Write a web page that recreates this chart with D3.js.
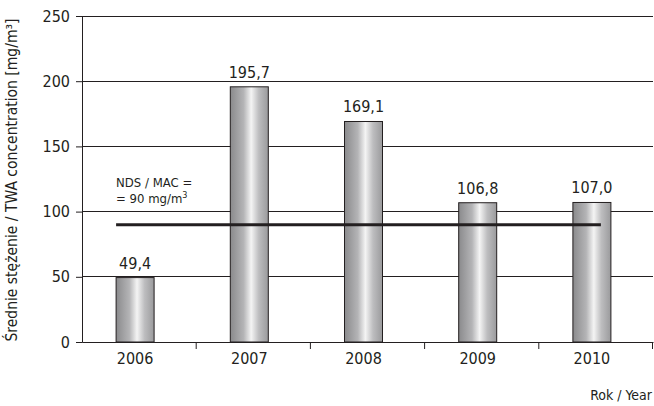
<!DOCTYPE html>
<html>
<head>
<meta charset="utf-8">
<script src="https://cdn.jsdelivr.net/npm/d3@7.9.0/dist/d3.min.js"></script>
<style>
  body { margin: 0; background: #fff; }
  svg text { font-family: "Liberation Sans Narrow", "DejaVu Sans Condensed", "Roboto Condensed", sans-serif; fill: #231f20; }
</style>
</head>
<body>
<div id="chart"></div>
<script>
const years = ["2006", "2007", "2008", "2009", "2010"];
const values = [49.4, 195.7, 169.1, 106.8, 107.0];
const valueLabels = ["49,4", "195,7", "169,1", "106,8", "107,0"];
const yTicks = [0, 50, 100, 150, 200, 250];
const limitValue = 90;

const W = 654, H = 406;
const margin = { top: 16, right: 1, bottom: 64, left: 82 };
const width = W - margin.left - margin.right;
const height = H - margin.top - margin.bottom;

const svg = d3.select("#chart").append("svg")
    .attr("width", W)
    .attr("height", H);

const defs = svg.append("defs");
const grad = defs.append("linearGradient")
    .attr("id", "barGrad")
    .attr("x1", "0%").attr("x2", "100%").attr("y1", "0%").attr("y2", "0%");
grad.append("stop").attr("offset", "0%").attr("stop-color", "#8a8a8c");
grad.append("stop").attr("offset", "35%").attr("stop-color", "#b4b4b6");
grad.append("stop").attr("offset", "55%").attr("stop-color", "#f4f4f4");
grad.append("stop").attr("offset", "75%").attr("stop-color", "#bdbdbf");
grad.append("stop").attr("offset", "100%").attr("stop-color", "#9a9a9c");

const g = svg.append("g").attr("transform", `translate(${margin.left},${margin.top})`);

const x = d3.scaleBand().domain(years).range([0, width]).paddingInner(0).paddingOuter(0);
const y = d3.scaleLinear().domain([0, 250]).range([height, 0]);

// gridlines
g.selectAll("line.grid")
    .data(yTicks.filter(d => d > 0))
    .enter().append("line")
    .attr("class", "grid")
    .attr("x1", 0).attr("x2", width)
    .attr("y1", d => y(d)).attr("y2", d => y(d))
    .attr("stroke", "#231f20").attr("stroke-width", 1)
    .attr("shape-rendering", "crispEdges");

// bars
const barW = 38;
const barX = i => x(years[i]) + x.bandwidth() / 2 - barW / 2 - 4;
g.selectAll("rect.bar")
    .data(values)
    .enter().append("rect")
    .attr("class", "bar")
    .attr("x", (d, i) => barX(i))
    .attr("y", d => y(d))
    .attr("width", barW)
    .attr("height", d => height - y(d))
    .attr("fill", "url(#barGrad)")
    .attr("stroke", "#231f20")
    .attr("stroke-width", 1);

// value labels
g.selectAll("text.val")
    .data(values)
    .enter().append("text")
    .attr("class", "val")
    .attr("x", (d, i) => barX(i) + barW / 2)
    .attr("y", d => y(d) - 9)
    .attr("text-anchor", "middle")
    .style("font-size", "16px")
    .text((d, i) => valueLabels[i]);

// limit line
g.append("line")
    .attr("x1", barX(0))
    .attr("x2", barX(4) + barW - 10)
    .attr("y1", y(limitValue)).attr("y2", y(limitValue))
    .attr("stroke", "#231f20").attr("stroke-width", 3);

const lim = g.append("text")
    .attr("y", y(limitValue) - 38)
    .style("font-size", "13px");
lim.append("tspan").attr("x", barX(0)).text("NDS / MAC =");
lim.append("tspan").attr("x", barX(0)).attr("dy", 16).text("= 90 mg/m");
lim.append("tspan").attr("dy", -5).style("font-size", "9px").text("3");

// y axis
const yAxis = g.append("g")
    .call(d3.axisLeft(y).tickValues(yTicks).tickSize(6).tickPadding(6));
yAxis.select(".domain").attr("stroke", "#231f20");
yAxis.selectAll(".tick line").attr("stroke", "#231f20");
yAxis.selectAll("text").style("font-size", "16px").attr("fill", "#231f20");

// x axis
const xAxis = g.append("g")
    .attr("transform", `translate(0,${height})`)
    .call(d3.axisBottom(x).tickSize(0).tickPadding(11));
xAxis.select(".domain").attr("stroke", "#231f20");
xAxis.selectAll("text").style("font-size", "16px").attr("fill", "#231f20")
    .attr("dx", -4);
g.selectAll("line.xtick")
    .data(years)
    .enter().append("line")
    .attr("class", "xtick")
    .attr("x1", (d, i) => x(d) + x.step() - (i === 4 ? 0.5 : 0))
    .attr("x2", (d, i) => x(d) + x.step() - (i === 4 ? 0.5 : 0))
    .attr("y1", height).attr("y2", height + 7)
    .attr("stroke", "#231f20");

// axis titles
svg.append("text")
    .attr("transform", `translate(${17},${margin.top + height / 2 + 1}) rotate(-90)`)
    .attr("text-anchor", "middle")
    .style("font-size", "15.5px")
    .text("Średnie stężenie / TWA concentration [mg/m³]");

svg.append("text")
    .attr("x", 652)
    .attr("y", 400)
    .attr("text-anchor", "end")
    .style("font-size", "14px")
    .text("Rok / Year");
</script>
</body>
</html>
